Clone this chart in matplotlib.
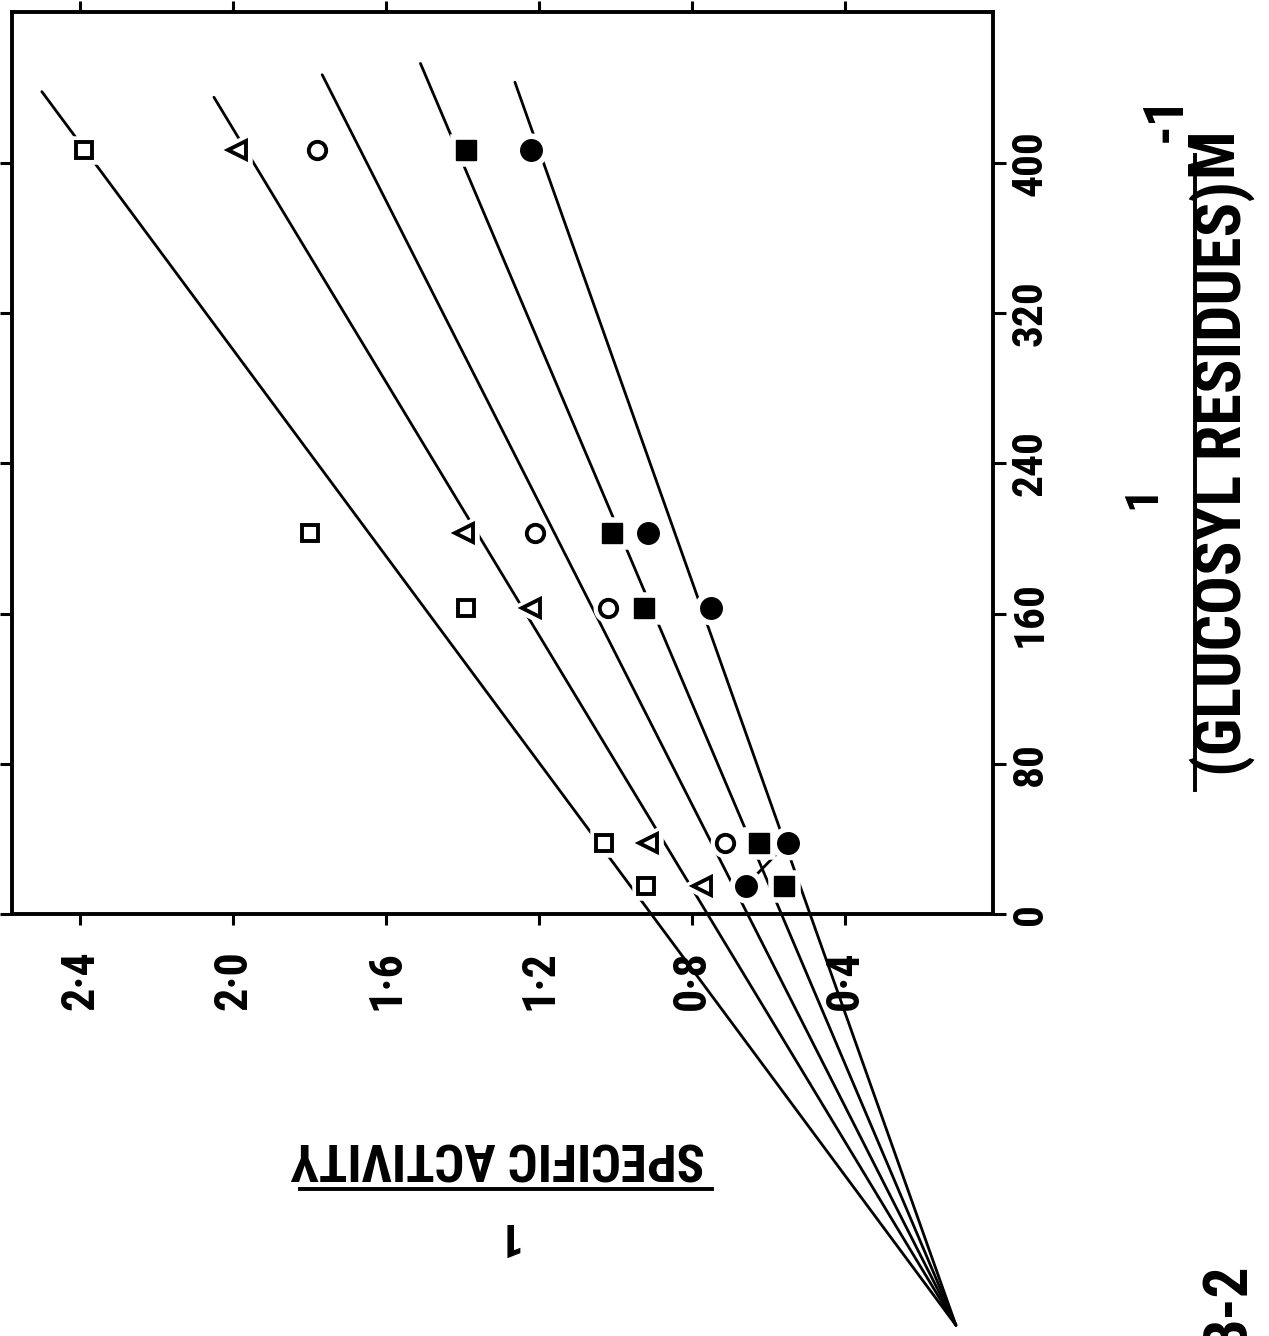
import os
import matplotlib
matplotlib.use('Agg')
import matplotlib.pyplot as plt
from matplotlib import font_manager
from matplotlib.font_manager import FontProperties
from matplotlib.lines import Line2D
import numpy as np

W, H = 1269, 1336

# 1 / (glucosyl residues), M^-1, for each row of points
glucosyl = [15, 38, 163, 203, 407]

# 1 / specific activity for each series (nan = no point)
open_square = [0.92, 1.03, 1.39, 1.80, 2.39]
open_triangle = [0.775, 0.915, 1.22, 1.395, 1.99]
open_circle = [np.nan, 0.715, 1.02, 1.21, 1.78]
filled_square = [0.56, 0.625, 0.925, 1.01, 1.39]
filled_circle = [0.66, 0.55, 0.75, 0.915, 1.22]

# fitted lines: common intersection, then the upper end of each line
cross_sa, cross_g = 0.11, -219
line_top_sa = [2.50, 2.05, 1.767, 1.51, 1.263]
line_top_g = [438, 435, 447, 453, 443]

sa_ticks = [2.4, 2.0, 1.6, 1.2, 0.8, 0.4]
sa_labels = ['2\u00b74', '2\u00b70', '1\u00b76', '1\u00b72', '0\u00b78', '0\u00b74']
g_ticks = [0, 80, 160, 240, 320, 400]
g_labels = ['0', '80', '160', '240', '320', '400']


def pick_font():
    # the lettering is narrow and heavy, so look for a condensed bold face first
    files = [f.fname for f in font_manager.fontManager.ttflist]
    wanted = ['liberationsansnarrow-bold', 'robotocondensed-bold', 'roboto_condensed-bold',
              'opensans_condensed-bold', 'opensanscondensed-bold', 'dejavusanscondensed-bold']
    for w in wanted:
        for f in files:
            if os.path.splitext(os.path.basename(f))[0].lower() == w:
                return FontProperties(fname=f)
    return FontProperties(family='DejaVu Sans', weight='bold')


FP = pick_font()


def px(x, y):
    return x / W, 1 - y / H


def fit(t, target, vertical=True):
    # scale the font so the text runs the same length as in the scan
    fig.canvas.draw()
    bb = t.get_window_extent()
    cur = bb.height if vertical else bb.width
    t.set_fontsize(t.get_fontsize() * target / cur)
    return t.get_fontsize()


fig = plt.figure(figsize=(W / 100, H / 100), dpi=100)
# the original figure is turned 90 degrees: 1/SA runs right to left, 1/S upward
left, right, top, bottom = 12, 993, 12, 914
ax = fig.add_axes([left / W, 1 - bottom / H, (right - left) / W, (bottom - top) / H])
ax.set_xlim(2.578, 0.013)
ax.set_ylim(0, 480.4)

for s in ax.spines.values():
    s.set_linewidth(2.8)

ax.set_xticks(sa_ticks, sa_labels)
ax.set_yticks(g_ticks, g_labels)
ax.tick_params(axis='x', which='both', direction='out', length=8, width=2.2,
               top=True, bottom=True, pad=18)
ax.tick_params(axis='y', which='both', direction='out', length=9, width=2.2,
               left=True, right=True, labelleft=False, labelright=True, pad=3)
for t in ax.get_xticklabels():
    t.set_fontproperties(FP)
    t.set_rotation(90)
    t.set_fontsize(30)
for t in ax.get_yticklabels():
    t.set_fontproperties(FP)
    t.set_rotation(90)
    t.set_fontsize(30)
    t.set_verticalalignment('center')

# fitted lines, running out of the frame to their common point
for sa_end, g_end in zip(line_top_sa, line_top_g):
    ax.plot([cross_sa, sa_end], [cross_g, g_end], color='black', lw=2.0,
            clip_on=False, zorder=2, solid_capstyle='round')

# short connector between the two lowest filled circles
ax.plot(filled_circle[:2], glucosyl[:2], color='black', lw=2.0, zorder=2)

series = [
    (open_square, 's', 12, 'white', 2.8),
    (open_triangle, '<', 12.5, 'white', 2.8),
    (open_circle, 'o', 12.5, 'white', 2.8),
    (filled_square, 's', 14, 'black', 1.0),
    (filled_circle, 'o', 15.5, 'black', 1.0),
]
for vals, mk, ms, fc, mew in series:
    # white halo leaves the small gap in the line around each point
    ax.plot(vals, glucosyl, ls='none', marker=mk, ms=ms, mfc='white', mec='white',
            mew=9, zorder=3, clip_on=False)
    ax.plot(vals, glucosyl, ls='none', marker=mk, ms=ms, mfc=fc, mec='black',
            mew=mew, zorder=4, clip_on=False)

# tick label sizes from the scan
xs = fit(ax.get_xticklabels()[0], 60)
for t in ax.get_xticklabels():
    t.set_fontsize(xs)
ys = fit(ax.get_yticklabels()[-1], 66)
for t in ax.get_yticklabels():
    t.set_fontsize(ys)

# x label: 1 over (GLUCOSYL RESIDUES) M^-1, turned 90 degrees
fig.text(*px(1142, 497), '1', rotation=90, rotation_mode='anchor',
         ha='center', va='center', fontproperties=FP, fontsize=34)
fig.add_artist(Line2D([1195 / W, 1195 / W], [1 - 155 / H, 1 - 790 / H],
                      transform=fig.transFigure, color='black', lw=2.8))
glab = fig.text(*px(1222, 478), '(GLUCOSYL RESIDUES)', rotation=90, rotation_mode='anchor',
                ha='center', va='center', fontproperties=FP, fontsize=33)
gs = fit(glab, 595)
fig.text(*px(1214, 152), 'M', rotation=90, rotation_mode='anchor',
         ha='center', va='center', fontproperties=FP, fontsize=gs)
fig.text(*px(1166, 118), '-1', rotation=90, rotation_mode='anchor',
         ha='center', va='center', fontproperties=FP, fontsize=gs * 0.85)

# y label: 1 over SPECIFIC ACTIVITY, upside down
slab = fig.text(*px(498, 1156), 'SPECIFIC ACTIVITY', rotation=180, rotation_mode='anchor',
                ha='center', va='center', fontproperties=FP, fontsize=34)
fit(slab, 415, vertical=False)
fig.add_artist(Line2D([300 / W, 712 / W], [1 - 1189 / H, 1 - 1189 / H],
                      transform=fig.transFigure, color='black', lw=2.8))
fig.text(*px(505, 1236), '1', rotation=180, rotation_mode='anchor',
         ha='center', va='center', fontproperties=FP, fontsize=34)

# figure number, cut by the page edge
fig.text(*px(1228, 1262), 'B-2', rotation=90, rotation_mode='anchor',
         ha='right', va='center', fontproperties=FP, fontsize=44)

fig.savefig('out.png', dpi=100, facecolor='white')
